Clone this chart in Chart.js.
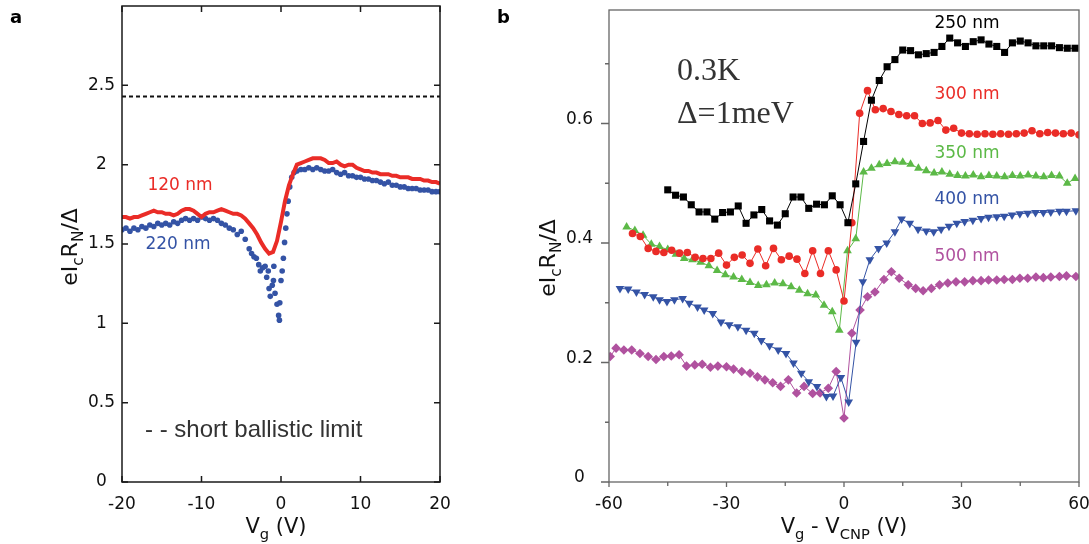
<!DOCTYPE html>
<html>
<head>
<meta charset="utf-8">
<script src="https://cdn.jsdelivr.net/npm/chart.js@4.4.1/dist/chart.umd.min.js"></script>
<style>
  body { margin: 0; background: #fff; }
  #wrap { position: relative; width: 1089px; height: 544px; }
  canvas { position: absolute; top: 0; }
  #chartA { left: 0; }
  #chartB { left: 490px; }
</style>
</head>
<body>
<div id="wrap">
  <canvas id="chartA" width="490" height="544"></canvas>
  <canvas id="chartB" width="599" height="544"></canvas>
</div>
<script>
// ---- panel a: critical current vs gate voltage ----
const aVg120 = [-20,-19.5,-19,-18.5,-18,-17.5,-17,-16.5,-16,-15.5,-15,-14.5,-14,-13.5,-13,-12.5,-12,-11.5,-11,-10.5,
  -10,-9.5,-9,-8.5,-8,-7.5,-7,-6.5,-6,-5.5,-5,-4.5,-4,-3.5,-3,-2.5,-2,-1.5,-1,-0.5,
  0,0.5,1,1.5,2,2.5,3,3.5,4,4.5,5,5.5,6,6.5,7,7.5,8,8.5,9,9.5,
  10,10.5,11,11.5,12,12.5,13,13.5,14,14.5,15,15.5,16,16.5,17,17.5,18,18.5,19,19.5,20];
const aIc120 = [1.67,1.67,1.66,1.67,1.67,1.68,1.69,1.70,1.71,1.70,1.70,1.69,1.69,1.68,1.69,1.71,1.72,1.72,1.71,1.69,
  1.67,1.69,1.70,1.70,1.71,1.72,1.71,1.70,1.69,1.69,1.68,1.66,1.63,1.60,1.56,1.51,1.47,1.44,1.45,1.52,
  1.64,1.77,1.87,1.94,2.00,2.01,2.02,2.03,2.04,2.04,2.04,2.03,2.01,2.01,2.02,2.00,1.99,2.00,2.00,1.98,
  1.97,1.96,1.96,1.95,1.95,1.94,1.94,1.94,1.93,1.93,1.92,1.92,1.92,1.91,1.91,1.91,1.90,1.90,1.89,1.89,1.88];

const aVg220 = [-20,-19.5,-19,-18.5,-18,-17.5,-17,-16.5,-16,-15.5,-15,-14.5,-14,-13.5,-13,-12.5,-12,-11.5,-11,-10.5,
  -10,-9.5,-9,-8.5,-8,-7.5,-7,-6.5,-6,-5.5,-5,-4.5,
  -4,-3.7,-3.4,-3.1,-2.8,-2.6,-2.3,-2,-1.8,-1.6,-1.5,-1.35,-1.1,-0.95,-0.9,-0.75,-0.5,-0.3,-0.2,-0.15,
  0,0.15,0.3,0.45,0.6,0.75,0.9,1.1,1.35,1.65,
  2,2.5,3,3.5,4,4.5,5,5.5,6,6.5,7,7.5,8,8.5,9,9.5,10,10.5,11,11.5,12,12.5,13,13.5,14,14.5,15,15.5,16,16.5,17,17.5,18,18.5,19,19.5,20];
const aIc220 = [1.59,1.60,1.58,1.60,1.59,1.61,1.60,1.62,1.61,1.63,1.62,1.63,1.62,1.64,1.63,1.65,1.66,1.65,1.66,1.65,
  1.67,1.66,1.65,1.66,1.65,1.63,1.62,1.60,1.59,1.56,1.58,1.53,
  1.47,1.44,1.42,1.41,1.37,1.33,1.35,1.36,1.29,1.33,1.22,1.17,1.24,1.27,1.36,1.19,1.12,1.05,1.02,1.13,
  1.27,1.33,1.41,1.51,1.60,1.69,1.77,1.86,1.92,1.95,
  1.96,1.97,1.97,1.98,1.97,1.98,1.97,1.96,1.96,1.97,1.95,1.94,1.95,1.93,1.93,1.92,1.92,1.91,1.91,1.90,
  1.90,1.89,1.88,1.89,1.87,1.87,1.86,1.86,1.85,1.85,1.85,1.84,1.84,1.84,1.83,1.83,1.83];

const ballisticLimit = 2.43;
const aTicksX = [-20, -10, 0, 10, 20];
const aTicksY = [0, 0.5, 1, 1.5, 2, 2.5];

// ---- panel b: normalised IcRN for several channel lengths ----
const vg250 = [-45,-43,-41,-39,-37,-35,-33,-31,-29,-27,-25,-23,-21,-19,-17,-15,-13,-11,-9,-7,-5,-3,-1,
  1,3,5,7,9,11,13,15,17,19,21,23,25,27,29,31,33,35,37,39,41,43,45,47,49,51,53,55,57,59];
const ic250 = [0.489,0.480,0.477,0.464,0.452,0.452,0.440,0.451,0.452,0.462,0.433,0.447,0.456,0.437,0.430,0.449,0.477,0.477,0.458,0.465,0.464,0.479,0.464,
  0.434,0.499,0.570,0.639,0.672,0.695,0.707,0.723,0.722,0.715,0.717,0.719,0.729,0.743,0.735,0.729,0.737,0.740,0.733,0.729,0.719,0.735,0.738,0.735,0.730,0.730,0.730,0.727,0.726,0.726];

const vg300 = [-54,-52,-50,-48,-46,-44,-42,-40,-38,-36,-34,-32,-30,-28,-26,-24,-22,-20,-18,-16,-14,-12,-10,-8,-6,-4,-2,0,
  2,4,6,8,10,12,14,16,18,20,22,24,26,28,30,32,34,36,38,40,42,44,46,48,50,52,54,56,58,60];
const ic300 = [0.416,0.411,0.391,0.386,0.384,0.388,0.383,0.384,0.376,0.374,0.374,0.383,0.363,0.376,0.380,0.366,0.390,0.362,0.391,0.372,0.378,0.373,0.349,0.387,0.349,0.387,0.355,0.303,
  0.434,0.617,0.655,0.623,0.625,0.620,0.615,0.613,0.613,0.600,0.601,0.605,0.589,0.592,0.584,0.583,0.582,0.583,0.582,0.583,0.582,0.583,0.584,0.588,0.583,0.585,0.584,0.583,0.584,0.581];

const vg350 = [-55.5,-53.4,-51.3,-49.2,-47.1,-45,-42.9,-40.8,-38.7,-36.6,-34.5,-32.4,-30.3,-28.2,-26.1,-24,-21.9,-19.8,-17.7,-15.6,-13.5,-11.4,-9.3,-7.2,-5.1,-3,-1.2,
  0.9,3,5,7,9,11,13,15,17,19,21,23,25,27,29,31,33,35,37,39,41,43,45,47,49,51,53,55,57,59];
const ic350 = [0.427,0.421,0.413,0.398,0.394,0.389,0.381,0.374,0.372,0.368,0.362,0.354,0.347,0.343,0.339,0.334,0.329,0.330,0.333,0.332,0.327,0.321,0.315,0.313,0.296,0.285,0.254,
  0.387,0.407,0.519,0.525,0.531,0.533,0.536,0.535,0.532,0.525,0.521,0.517,0.519,0.515,0.513,0.512,0.514,0.511,0.513,0.512,0.511,0.513,0.512,0.514,0.512,0.511,0.513,0.512,0.500,0.508];

const vg400 = [-57.2,-55.1,-53,-50.9,-48.7,-47.1,-45.2,-43.3,-41.2,-39.5,-37.4,-35.7,-33.5,-31.4,-29.3,-27.1,-25,-22.9,-21.1,-19,
  -16.8,-14.8,-12.9,-10.9,-9,-6.9,-4.5,-2.8,-0.8,1.2,3.1,4.8,6.6,8.8,10.9,13,14.7,16.8,18.9,21,
  22.9,24.8,26.8,28.8,30.8,32.9,35,36.9,39,40.9,42.9,44.9,46.9,48.9,50.9,52.8,55,56.8,59.2];
const ic400 = [0.324,0.323,0.318,0.314,0.310,0.305,0.302,0.305,0.307,0.299,0.293,0.288,0.282,0.268,0.263,0.260,0.254,0.249,0.237,0.228,
  0.221,0.215,0.199,0.182,0.168,0.160,0.143,0.144,0.175,0.134,0.234,0.335,0.372,0.391,0.400,0.419,0.440,0.433,0.423,0.420,
  0.419,0.423,0.428,0.433,0.436,0.438,0.441,0.443,0.444,0.445,0.447,0.449,0.450,0.451,0.451,0.452,0.453,0.453,0.454];

const vg500 = [-59.7,-58.2,-56.2,-54.2,-52.1,-50,-48,-46,-44.1,-42.1,-40.2,-38.1,-36.2,-34.1,-32.2,-30,-28.2,-26.1,-24,-22.1,
  -20.2,-18.2,-16.2,-14.2,-12.1,-10.2,-8,-6.1,-4,-2,0,2,4.1,6,7.9,10.2,12.1,14.1,16.4,18.3,
  20.2,22.3,24.4,26.5,28.6,30.8,32.9,35,36.9,39,40.9,43,44.9,46.9,49,50.9,52.8,55,56.8,59.2];
const ic500 = [0.210,0.224,0.221,0.221,0.215,0.210,0.205,0.210,0.211,0.213,0.194,0.196,0.197,0.192,0.194,0.193,0.189,0.185,0.182,0.176,
  0.171,0.166,0.160,0.171,0.149,0.160,0.148,0.149,0.157,0.185,0.107,0.249,0.288,0.310,0.318,0.339,0.352,0.341,0.330,0.324,
  0.320,0.324,0.330,0.333,0.335,0.335,0.337,0.337,0.338,0.338,0.339,0.339,0.341,0.341,0.343,0.342,0.343,0.344,0.345,0.344];

const bTicksX = [-60, -30, 0, 30, 60];
const bMinorX = [-45, -15, 15, 45];
const bTicksY = [0, 0.2, 0.4, 0.6];
const bMinorY = [0.1, 0.3, 0.5, 0.7];

const RED = '#ea2c27', BLUE = '#3453a5', GREEN = '#5cb947', PURPLE = '#b0529f';
const SANS = '"DejaVu Sans", sans-serif';

const pts = (xs, ys) => xs.map((x, i) => ({ x: x, y: ys[i] }));

// text with subscripts, centred on x
function richText(ctx, parts, x, y, size, color) {
  ctx.fillStyle = color;
  ctx.textAlign = 'left';
  ctx.textBaseline = 'alphabetic';
  let w = 0;
  parts.forEach(([t, sub]) => {
    ctx.font = (sub ? size * 0.7 : size) + 'px ' + SANS;
    w += ctx.measureText(t).width;
  });
  let cx = x - w / 2;
  parts.forEach(([t, sub]) => {
    ctx.font = (sub ? size * 0.7 : size) + 'px ' + SANS;
    ctx.fillText(t, cx, sub ? y + size * 0.28 : y);
    cx += ctx.measureText(t).width;
  });
}

function label(ctx, text, x, y, font, color, align) {
  ctx.font = font;
  ctx.fillStyle = color;
  ctx.textAlign = align || 'center';
  ctx.textBaseline = 'middle';
  ctx.fillText(text, x, y);
}

const yTitleParts = [['eI', false], ['c', true], ['R', false], ['N', true], ['/\u0394', false]];

const decorA = {
  id: 'decorA',
  afterDraw(chart) {
    const { ctx, chartArea: ca, scales: { x, y } } = chart;
    ctx.save();
    ctx.strokeStyle = '#1a1a1a';
    ctx.lineWidth = 1.5;
    ctx.strokeRect(ca.left, ca.top, ca.right - ca.left, ca.bottom - ca.top);
    ctx.beginPath();
    aTicksX.forEach(v => {
      const px = x.getPixelForValue(v);
      ctx.moveTo(px, ca.bottom); ctx.lineTo(px, ca.bottom - 6);
      ctx.moveTo(px, ca.top); ctx.lineTo(px, ca.top + 6);
    });
    aTicksY.forEach(v => {
      const py = y.getPixelForValue(v);
      ctx.moveTo(ca.left, py); ctx.lineTo(ca.left + 6, py);
      ctx.moveTo(ca.right, py); ctx.lineTo(ca.right - 6, py);
    });
    ctx.stroke();

    label(ctx, '120 nm', 180, 186, '17px ' + SANS, RED);
    label(ctx, '220 nm', 178, 245, '17px ' + SANS, BLUE);

    ctx.font = '24px "Liberation Sans", Arial, sans-serif';
    ctx.fillStyle = '#333';
    ctx.textAlign = 'left';
    ctx.textBaseline = 'alphabetic';
    ctx.fillText('- - short ballistic limit', 145, 437);

    ctx.font = 'bold 18px ' + SANS;
    ctx.fillStyle = '#000';
    ctx.fillText('a', 10, 23);

    richText(ctx, [['V', false], ['g', true], [' (V)', false]], 276, 533, 21, '#111');

    ctx.translate(77, 247);
    ctx.rotate(-Math.PI / 2);
    richText(ctx, yTitleParts, 0, 0, 22, '#111');
    ctx.restore();
  }
};

const decorB = {
  id: 'decorB',
  afterDraw(chart) {
    const { ctx, chartArea: ca, scales: { x, y } } = chart;
    ctx.save();
    ctx.strokeStyle = '#666';
    ctx.lineWidth = 1.3;
    ctx.strokeRect(ca.left, ca.top, ca.right - ca.left, ca.bottom - ca.top);
    ctx.beginPath();
    bTicksX.forEach(v => { const px = x.getPixelForValue(v); ctx.moveTo(px, ca.bottom); ctx.lineTo(px, ca.bottom + 5); });
    bMinorX.forEach(v => { const px = x.getPixelForValue(v); ctx.moveTo(px, ca.bottom); ctx.lineTo(px, ca.bottom + 4); });
    bTicksY.forEach(v => { const py = y.getPixelForValue(v); ctx.moveTo(ca.left, py); ctx.lineTo(ca.left - 8, py); });
    bMinorY.forEach(v => { const py = y.getPixelForValue(v); ctx.moveTo(ca.left, py); ctx.lineTo(ca.left - 4, py); });
    ctx.stroke();

    label(ctx, '250 nm', 477, 24, '17px ' + SANS, '#000');
    label(ctx, '300 nm', 477, 95, '17px ' + SANS, RED);
    label(ctx, '350 nm', 477, 154, '17px ' + SANS, GREEN);
    label(ctx, '400 nm', 477, 200, '17px ' + SANS, BLUE);
    label(ctx, '500 nm', 477, 257, '17px ' + SANS, PURPLE);

    ctx.font = '32px "Liberation Serif", "Times New Roman", serif';
    ctx.fillStyle = '#333';
    ctx.textAlign = 'left';
    ctx.textBaseline = 'alphabetic';
    ctx.fillText('0.3K', 187, 80);
    ctx.fillText('\u0394=1meV', 187, 123);

    ctx.font = 'bold 18px ' + SANS;
    ctx.fillStyle = '#000';
    ctx.fillText('b', 7, 23);

    richText(ctx, [['V', false], ['g', true], [' - V', false], ['CNP', true], [' (V)', false]], 354, 533, 21, '#111');

    ctx.translate(65, 258);
    ctx.rotate(-Math.PI / 2);
    richText(ctx, yTitleParts, 0, 0, 22, '#111');
    ctx.restore();
  }
};

// fixed-size axis: the plot box comes from layout padding only
function axis(min, max, ticks, pad, fit, extraTicks) {
  return {
    type: 'linear', min: min, max: max,
    grid: { display: false, drawTicks: false },
    border: { display: false },
    afterBuildTicks: s => { s.ticks = ticks.map(v => ({ value: v })); },
    afterFit: s => {
      fit(s);
      s.paddingTop = 0; s.paddingBottom = 0; s.paddingLeft = 0; s.paddingRight = 0;
    },
    ticks: Object.assign({
      padding: pad, autoSkip: false, maxRotation: 0,
      color: '#111', font: { family: 'DejaVu Sans', size: 17 },
      callback: v => String(v)
    }, extraTicks)
  };
}

const baseOpts = {
  responsive: false,
  animation: false,
  events: [],
  plugins: { legend: { display: false }, tooltip: { enabled: false } }
};

new Chart(document.getElementById('chartA'), {
  type: 'scatter',
  data: {
    datasets: [
      { data: pts(aVg120, aIc120), showLine: true, borderColor: RED, borderWidth: 4, pointRadius: 0 },
      { data: pts(aVg220, aIc220), showLine: false, pointRadius: 2.8, pointBorderWidth: 0, backgroundColor: BLUE },
      { data: [{ x: -20, y: ballisticLimit }, { x: 20, y: ballisticLimit }], showLine: true,
        borderColor: '#111', borderWidth: 2, borderDash: [4, 3], pointRadius: 0 }
    ]
  },
  options: Object.assign({}, baseOpts, {
    layout: { padding: { left: 0, right: 50, top: 6, bottom: 0 } },
    scales: {
      x: axis(-20, 20, aTicksX, 12, s => { s.height = 62; }),
      y: axis(0, 3, aTicksY, 7, s => { s.width = 122; }, { crossAlign: 'center' })
    }
  }),
  plugins: [decorA]
});

function series(xs, ys, color, style, r, rot) {
  return {
    data: pts(xs, ys), showLine: true, borderColor: color, borderWidth: 1,
    pointStyle: style, pointRadius: r, pointRotation: rot || 0,
    pointBackgroundColor: color, pointBorderWidth: 0
  };
}

new Chart(document.getElementById('chartB'), {
  type: 'scatter',
  data: {
    datasets: [
      series(vg250, ic250, '#000', 'rect', 5),
      series(vg300, ic300, RED, 'circle', 3.8),
      series(vg350, ic350, GREEN, 'triangle', 5),
      series(vg400, ic400, BLUE, 'triangle', 5, 180),
      series(vg500, ic500, PURPLE, 'rectRot', 4.8)
    ]
  },
  options: Object.assign({}, baseOpts, {
    layout: { padding: { left: 0, right: 10, top: 10, bottom: 0 } },
    scales: {
      x: axis(-60, 60, bTicksX, 12, s => { s.height = 62; }),
      y: axis(0, 0.79, bTicksY, 16, s => { s.width = 119; }, { crossAlign: 'center', labelOffset: -4 })
    }
  }),
  plugins: [decorB]
});
</script>
</body>
</html>
